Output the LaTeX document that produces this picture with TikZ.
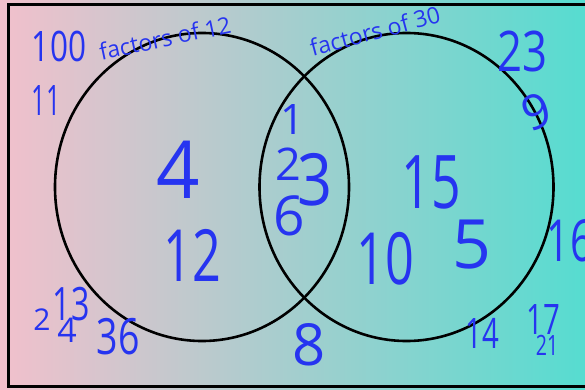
\documentclass[tikz,border=0pt]{standalone}
\usepackage{fontspec}
\setmainfont{Open Sans}
\definecolor{penblue}{RGB}{38,52,240}
\definecolor{pinkbg}{RGB}{242,192,204}
\definecolor{tealbg}{RGB}{86,220,208}
\tikzset{
  hw/.style={text=penblue, inner sep=0pt, font=\fontsize{#1}{#1}\selectfont},
  narrow/.style={xscale=0.7},
  ring/.style={draw=black, line width=2.6pt}
}
\begin{document}
\begin{tikzpicture}[x=1pt,y=-1pt]
\useasboundingbox (0,0) rectangle (585,390);
\shade[left color=pinkbg, right color=tealbg] (0,0) rectangle (585,390);
\draw[line width=3pt] (600,5) -- (8,5) -- (8,386) -- (600,386);
\draw[ring] (202,187) ellipse [x radius=147, y radius=154];
\draw[ring] (406.5,187) ellipse [x radius=147, y radius=154];
% labels
\node[hw=42, xscale=0.75] (n100) at (59,46) {100};
\node[hw=23, rotate=12] (f12) at (165,38) {factors of 12};
\node[hw=42, xscale=0.6] (n11) at (46,101) {11};
\node[hw=23, rotate=15] (f30) at (375,31) {factors of 30};
\node[hw=56, xscale=0.78] (n23r) at (522,51) {23};
\node[hw=48, rotate=20] (n9) at (537,112) {9};
% left only
\node[hw=80, xscale=0.95] (n4) at (178,170) {4};
\node[hw=72, narrow] (n12) at (192,255) {12};
% intersection
\node[hw=42] (n1) at (293,120) {1};
\node[hw=45] (n2) at (288,164) {2};
\node[hw=72, xscale=0.85] (n3) at (315,180) {3};
\node[hw=55] (n6) at (289,216) {6};
% right only
\node[hw=74, narrow] (n15) at (431,182) {15};
\node[hw=72, narrow] (n10) at (385,259) {10};
\node[hw=68] (n5) at (472,245) {5};
\node[hw=58, narrow] (n16) at (570,241) {16};
% outside bottom
\node[hw=30] (b2) at (42,320) {2};
\node[hw=46, narrow] (b13) at (71,304) {13};
\node[hw=34] (b4) at (67,330) {4};
\node[hw=50, xscale=0.75] (n36) at (118,337) {36};
\node[hw=58] (n8) at (309,345) {8};
\node[hw=42, narrow] (n14) at (482,333) {14};
\node[hw=42, narrow] (n17) at (543,320) {17};
\node[hw=28, narrow] (n21) at (547,345) {21};
\end{tikzpicture}
\end{document}
